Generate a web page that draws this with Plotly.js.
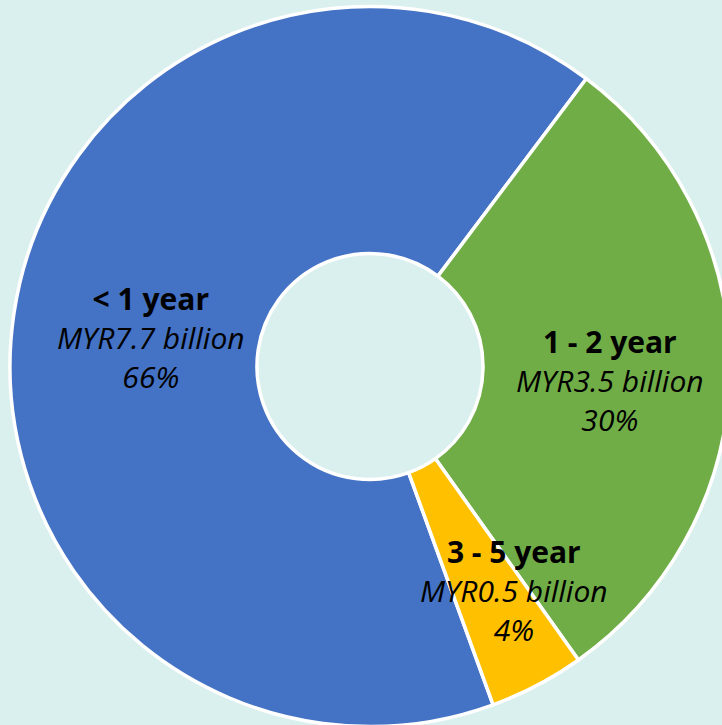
<!DOCTYPE html>
<html>
<head>
<meta charset="utf-8">
<script src="https://cdn.plot.ly/plotly-3.0.1.min.js"></script>
<style>
  html, body { margin: 0; padding: 0; overflow: hidden; background: #DAF0EE; }
  #chart { width: 740px; height: 740px; }
</style>
</head>
<body>
<div id="chart"></div>
<script>
// Data
const categories = ['< 1 year', '1 - 2 year', '3 - 5 year'];
const valuesBillion = [7.7, 3.5, 0.5];
const sliceColors = ['#4472C4', '#70AD47', '#FFC000'];

const total = valuesBillion.reduce((a, b) => a + b, 0);
const pctLabels = valuesBillion.map(v => Math.round(v / total * 100) + '%');

function esc(s) { return s.replace(/&/g, '&amp;').replace(/</g, '&lt;').replace(/>/g, '&gt;'); }

// Label placement (paper coords)
const labelPos = [
  { x: 151 / 740, y: 1 - 337 / 740 },
  { x: 610 / 740, y: 1 - 380 / 740 },
  { x: 514 / 740, y: 1 - 590 / 740 }
];

const annotations = categories.map((c, i) => ({
  xref: 'paper', yref: 'paper',
  x: labelPos[i].x, y: labelPos[i].y,
  xanchor: 'center', yanchor: 'middle',
  showarrow: false,
  align: 'center',
  text: '<b>' + esc(c) + '</b><br><i>MYR' + valuesBillion[i] + ' billion</i><br><i>' + pctLabels[i] + '</i>',
  font: { family: 'Open Sans, sans-serif', size: 30, color: '#000000' }
}));

const trace = {
  type: 'pie',
  labels: categories,
  values: valuesBillion,
  sort: false,
  direction: 'clockwise',
  rotation: 160,
  hole: 0.314,
  marker: { colors: sliceColors, line: { color: '#FFFFFF', width: 3.5 } },
  textinfo: 'none',
  hoverinfo: 'none',
  showlegend: false,
  domain: { x: [10 / 740, 730 / 740], y: [(373.5 - 360) / 740, (373.5 + 360) / 740] }
};

const layout = {
  width: 740, height: 740,
  margin: { l: 0, r: 0, t: 0, b: 0, pad: 0 },
  paper_bgcolor: '#DAF0EE',
  plot_bgcolor: '#DAF0EE',
  showlegend: false,
  annotations: annotations
};

Plotly.newPlot('chart', [trace], layout, { displayModeBar: false, staticPlot: true });
</script>
</body>
</html>
